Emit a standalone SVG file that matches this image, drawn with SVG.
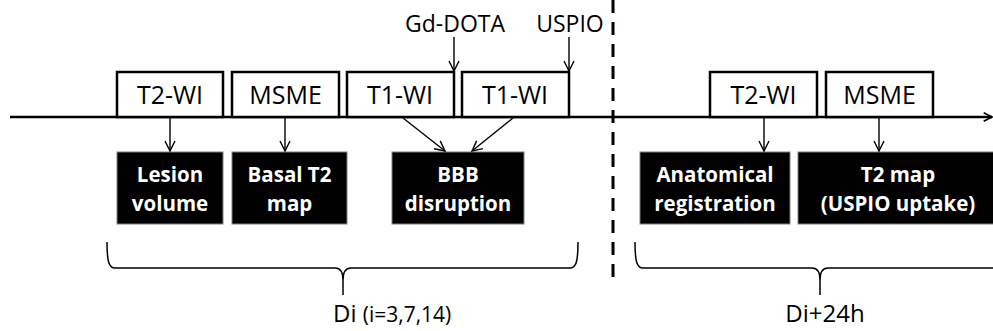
<svg xmlns="http://www.w3.org/2000/svg" width="993" height="331" viewBox="0 0 993 331">
<style>
.seq{fill:#fff;stroke:#000;stroke-width:2.5}
.res{fill:#000;stroke:#7f7f7f;stroke-width:1}
.lbl{font-family:"Open Sans","Noto Sans",sans-serif;font-size:25px;fill:#000;text-anchor:middle}
.top{font-family:"Open Sans","Noto Sans",sans-serif;font-size:23px;fill:#000;text-anchor:middle}
.rt{font-family:"Open Sans","Noto Sans",sans-serif;font-size:20.5px;font-weight:bold;fill:#fff;text-anchor:middle}
.arr{fill:none;stroke:#000;stroke-width:1.4;marker-end:url(#ah)}
.brace{fill:none;stroke:#000;stroke-width:1.5}
.bt{font-family:"Open Sans","Noto Sans",sans-serif;font-size:24px;fill:#000}
</style>
<defs>
<marker id="ah" viewBox="0 0 12 12" refX="11" refY="6" markerWidth="12" markerHeight="12" markerUnits="userSpaceOnUse" orient="auto">
<path d="M1,1 L11,6 L1,11" fill="none" stroke="#000" stroke-width="1.4"/>
</marker>
<marker id="ah2" viewBox="0 0 12 12" refX="11" refY="6" markerWidth="10" markerHeight="10" markerUnits="userSpaceOnUse" orient="auto">
<path d="M1,1 L11,6 L1,11" fill="none" stroke="#000" stroke-width="2"/>
</marker>
</defs>
<rect width="993" height="331" fill="#fff"/>

<g id="timeline">
<line x1="10" y1="117" x2="992" y2="117" stroke="#000" stroke-width="2.5" marker-end="url(#ah2)"/>
<line x1="613" y1="0" x2="613" y2="286" stroke="#000" stroke-width="3" stroke-dasharray="13 9"/>
</g>

<g id="seq-t2wi-1"><rect class="seq" x="117" y="72" width="106" height="45"/><text class="lbl" x="170" y="104">T2-WI</text></g>
<g id="seq-msme-1"><rect class="seq" x="232" y="72" width="107" height="45"/><text class="lbl" x="285.5" y="104">MSME</text></g>
<g id="seq-t1wi-1"><rect class="seq" x="347" y="72" width="107" height="45"/><text class="lbl" x="400" y="104">T1-WI</text></g>
<g id="seq-t1wi-2"><rect class="seq" x="462" y="72" width="107" height="45"/><text class="lbl" x="515" y="104">T1-WI</text></g>
<g id="seq-t2wi-2"><rect class="seq" x="710" y="72" width="107" height="45"/><text class="lbl" x="763.5" y="104">T2-WI</text></g>
<g id="seq-msme-2"><rect class="seq" x="826" y="72" width="107" height="45"/><text class="lbl" x="879.5" y="104">MSME</text></g>

<g id="label-gd"><text class="top" x="455" y="32">Gd-DOTA</text></g>
<g id="label-uspio"><text class="top" x="570" y="32">USPIO</text></g>

<g id="res-lesion"><rect class="res" x="117" y="152" width="106" height="72"/><text class="rt" x="170" y="182">Lesion</text><text class="rt" x="170" y="211">volume</text></g>
<g id="res-basal"><rect class="res" x="232" y="152" width="115" height="72"/><text class="rt" x="289.5" y="182">Basal T2</text><text class="rt" x="289.5" y="211">map</text></g>
<g id="res-bbb"><rect class="res" x="392" y="152" width="132" height="72"/><text class="rt" x="458" y="182">BBB</text><text class="rt" x="458" y="211">disruption</text></g>
<g id="res-anat"><rect class="res" x="640" y="152" width="150" height="72"/><text class="rt" x="715" y="182">Anatomical</text><text class="rt" x="715" y="211">registration</text></g>
<g id="res-t2map"><rect class="res" x="798" y="152" width="200" height="72"/><text class="rt" x="898" y="182">T2 map</text><text class="rt" x="898" y="211">(USPIO uptake)</text></g>

<g id="connectors">
<line class="arr" x1="454" y1="37" x2="454" y2="71"/>
<line class="arr" x1="569" y1="37" x2="569" y2="71"/>
<line class="arr" x1="170" y1="118" x2="170" y2="151"/>
<line class="arr" x1="285" y1="118" x2="285" y2="151"/>
<line class="arr" x1="403" y1="118" x2="445" y2="151"/>
<line class="arr" x1="513" y1="118" x2="472" y2="151"/>
<line class="arr" x1="764" y1="118" x2="764" y2="151"/>
<line class="arr" x1="879" y1="118" x2="879" y2="151"/>
</g>

<g id="brace-di">
<path class="brace" d="M107,242 C107,262 109,268 115,268 L335,268 C341,268 343,272 343,280 L343,295 M343,280 C343,272 345,268 351,268 L570,268 C576,268 578,262 578,242"/>
<text class="bt" x="333" y="322">Di <tspan font-size="21">(i=3,7,14)</tspan></text>
</g>
<g id="brace-di24">
<path class="brace" d="M635,242 C635,262 637,268 643,268 L812,268 C818,268 820,272 820,280 L820,295 M820,280 C820,272 822,268 828,268 L1000,268"/>
<text class="bt" x="825" y="322" text-anchor="middle">Di+24h</text>
</g>
</svg>
